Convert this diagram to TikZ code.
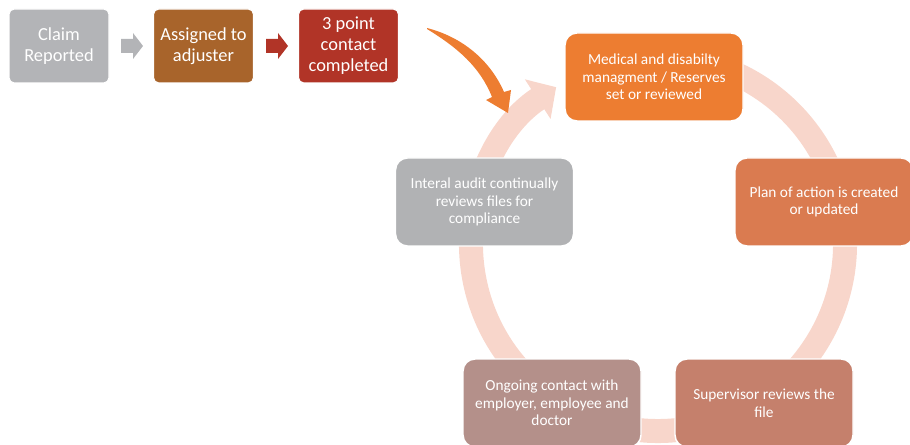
\documentclass[tikz,border=0pt]{standalone}
\usepackage{fontspec}
\setmainfont{Carlito}
\usetikzlibrary{arrows.meta,calc}

\definecolor{cgray}{HTML}{B3B4B7}
\definecolor{cbrown}{HTML}{A8642B}
\definecolor{cred}{HTML}{B13427}
\definecolor{corange}{HTML}{ED7D31}
\definecolor{cplan}{HTML}{DA7B50}
\definecolor{csuper}{HTML}{C5806C}
\definecolor{congo}{HTML}{B4908A}
\definecolor{caudit}{HTML}{B1B2B4}
\definecolor{cring}{HTML}{F8D6CB}

\tikzset{
  topbox/.style={rectangle, rounded corners=4pt, draw=white, line width=0.8pt,
    minimum width=75pt, minimum height=55.5pt, inner sep=0pt, align=center,
    text=white, font=\fontsize{13.8}{15.75}\selectfont},
  cyclebox/.style={rectangle, rounded corners=9pt, draw=white, line width=1.1pt,
    minimum width=133.5pt, minimum height=66pt, inner sep=0pt, align=center,
    text=white, font=\fontsize{11.5}{13.2}\selectfont},
  ring/.style={draw=cring, line width=18pt,
    -{Triangle[width=34.5pt, length=16.5pt]}}
}

% block arrow pointing right, centred on the given coordinate
\newcommand{\blockarrowat}[2]{%
  \fill[#1] ($(#2)+(-11,-7)$) -- ($(#2)+(1,-7)$) -- ($(#2)+(1,-13)$) --
    ($(#2)+(11,0)$) -- ($(#2)+(1,13)$) -- ($(#2)+(1,7)$) -- ($(#2)+(-11,7)$) -- cycle;}

\begin{document}
\begin{tikzpicture}[x=0.75pt, y=-0.75pt]
  \useasboundingbox (0,0) rectangle (910,445);
  \clip (0,0) rectangle (910,445);

  % centre of the cycle ring
  \coordinate (cc) at (658,244);

  % continuous ring arrow behind the cycle steps
  \draw[ring] ($(cc)+(100:140.25pt)$) arc[start angle=100, end angle=-237, radius=140.25pt];

  % first row of steps
  \node[topbox, fill=cgray]  (claim)   at (59,46)    {Claim\\Reported};
  \node[topbox, fill=cbrown] (assign)  at (203.5,46) {Assigned to\\adjuster};
  \node[topbox, fill=cred]   (contact) at (348.5,46) {3 point\\contact\\completed};
  \coordinate (arr1) at (132,46);
  \coordinate (arr2) at (277,46);
  \blockarrowat{cgray}{arr1}
  \blockarrowat{cred}{arr2}

  % curved arrow leading into the cycle
  \fill[corange] (427,28)
    .. controls (462,37) and (490,60) .. (504,92)
    -- (511,90) -- (508,113) -- (486,100) -- (492,97)
    .. controls (480,67) and (458,48) .. (427,29) -- cycle;

  % cycle steps
  \node[cyclebox, fill=corange] (med)    at (654,77)    {Medical and disabilty\\managment / Reserves\\set or reviewed};
  \node[cyclebox, fill=cplan]   (plan)   at (824,202)   {Plan of action is created\\or updated};
  \node[cyclebox, fill=csuper]  (super)  at (764,403)   {Supervisor reviews the\\file};
  \node[cyclebox, fill=congo]   (ongo)   at (552,403)   {Ongoing contact with\\employer, employee and\\doctor};
  \node[cyclebox, fill=caudit]  (audit)  at (484.5,202) {Interal audit continually\\reviews files for\\compliance};
\end{tikzpicture}
\end{document}
